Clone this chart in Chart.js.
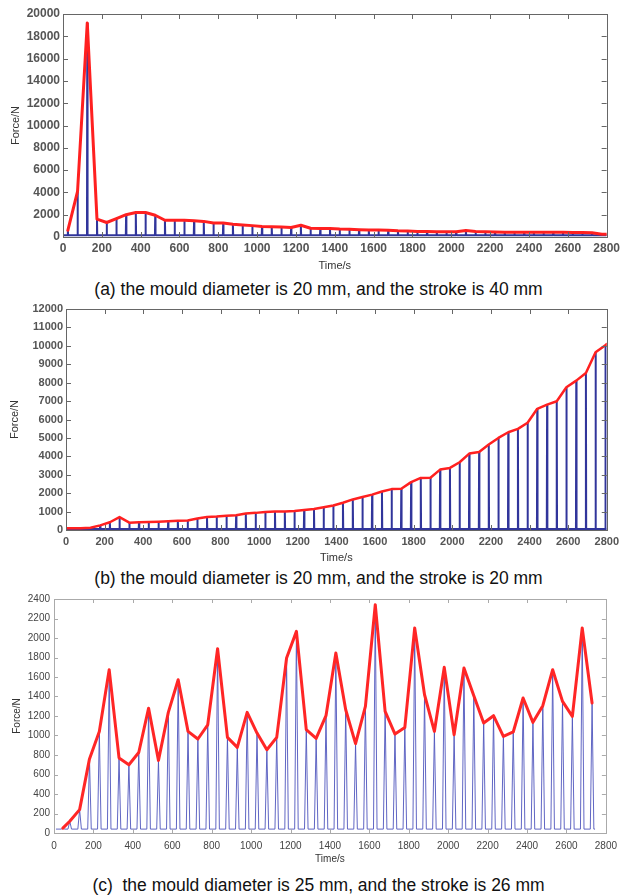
<!DOCTYPE html>
<html>
<head>
<meta charset="utf-8">
<script src="https://cdn.jsdelivr.net/npm/chart.js@4.4.1/dist/chart.umd.min.js"></script>
<style>
  html, body { margin: 0; padding: 0; background: #fff; }
  body { position: relative; width: 624px; height: 896px; overflow: hidden;
         font-family: "Liberation Sans", Arial, sans-serif; }
  canvas { position: absolute; left: 0; }
  .cap { position: absolute; left: 0; width: 637px; text-align: center; font-size: 17.5px;
         line-height: 20px; color: #111; white-space: pre; }
</style>
</head>
<body>
<canvas id="chartA" width="624" height="275" style="top:0px"></canvas>
<div class="cap" style="top:279px">(a) the mould diameter is 20 mm, and the stroke is 40 mm</div>
<canvas id="chartB" width="624" height="272" style="top:295px"></canvas>
<div class="cap" style="top:568px">(b) the mould diameter is 20 mm, and the stroke is 20 mm</div>
<canvas id="chartC" width="624" height="283" style="top:585px"></canvas>
<div class="cap" style="top:875px">(c)  the mould diameter is 25 mm, and the stroke is 26 mm</div>

<script>
// ---- (a) mould 20 mm, stroke 40 mm: peak force of each pressing cycle ----
const timeA = [25,75,125,175,225,275,325,375,425,475,525,575,625,675,725,775,825,875,925,975,
  1025,1075,1125,1175,1225,1275,1325,1375,1425,1475,1525,1575,1625,1675,1725,1775,1825,1875,1925,1975,
  2025,2075,2125,2175,2225,2275,2325,2375,2425,2475,2525,2575,2625,2675,2725,2775];
const forceA = [600,4100,19200,1600,1300,1650,2000,2200,2200,1950,1500,1500,1500,1450,1400,1250,1250,1150,1080,1020,
  950,930,900,850,1050,780,760,760,720,700,660,630,620,600,560,540,500,490,480,480,
  480,580,500,480,450,430,420,420,420,420,420,420,410,400,380,250];
const endForceA = 240;     // envelope value at the right edge (2800 s)
const idleForceA = 150;    // force between cycles

// ---- (b) mould 20 mm, stroke 20 mm ----
const timeB = [26,76,127,177,227,277,328,378,428,479,529,579,630,680,730,780,831,881,931,982,
  1032,1082,1133,1183,1233,1284,1334,1384,1434,1485,1535,1585,1636,1686,1736,1787,1837,1887,1937,1988,
  2038,2088,2139,2189,2239,2290,2340,2390,2440,2491,2541,2591,2642,2692,2742,2793];
const forceB = [100,100,120,250,420,700,400,420,430,450,470,500,520,620,700,730,780,800,900,930,
  980,1000,1010,1030,1080,1140,1230,1330,1480,1660,1790,1920,2090,2220,2240,2600,2830,2840,3280,3370,
  3680,4150,4240,4640,5000,5310,5490,5820,6580,6810,6990,7750,8110,8530,9650,10030];
const startForceB = 100;   // envelope value at 0 s
const endForceB = 10100;   // envelope value at 2800 s
const idleForceB = 60;

// ---- (c) mould 25 mm, stroke 26 mm ----
const timeC = [45,80,130,180,230,280,330,380,430,480,530,580,630,680,730,780,830,880,930,980,
  1030,1080,1130,1180,1230,1280,1330,1380,1430,1480,1530,1580,1630,1680,1730,1780,1830,1880,1930,1980,
  2030,2080,2130,2180,2230,2280,2330,2380,2430,2480,2530,2580,2630,2680,2730];
const forceC = [50,120,240,760,1040,1675,770,700,826,1280,745,1237,1572,1042,964,1110,1890,981,878,1237,
  1025,854,981,1795,2068,1060,970,1203,1846,1264,916,1298,2341,1248,1015,1083,2103,1418,1042,1699,
  1008,1692,1408,1128,1203,991,1036,1385,1135,1306,1675,1350,1196,2103,1333];
const idleForceC = 40;

// Axis ranges and tick steps
const timeMax = 2800, timeStep = 200;
const yMaxA = 20000, yStepA = 2000;
const yMaxB = 12000, yStepB = 1000;
const yMaxC = 2400,  yStepC = 200;

// Force trace: each cycle is a short pulse from the idle level up to its peak and back.
function pulseTrain(times, peaks, idle, halfWidth, from, to) {
  const pts = [{ x: from, y: idle }];
  times.forEach((t, i) => {
    pts.push({ x: t - halfWidth, y: idle }, { x: t, y: peaks[i] }, { x: t + halfWidth, y: idle });
  });
  pts.push({ x: to, y: idle });
  return pts;
}
// Envelope through the cycle peaks
function envelope(times, peaks) {
  return times.map((t, i) => ({ x: t, y: peaks[i] }));
}

// Box around the plot with inward tick marks on all four sides
const boxTicks = {
  id: 'boxTicks',
  afterDatasetsDraw(chart, args, o) {
    const { ctx, chartArea: a } = chart;
    const xs = chart.scales.x, ys = chart.scales.y;
    ctx.save();
    ctx.strokeStyle = o.color;
    ctx.lineWidth = 1;
    ctx.beginPath();
    xs.ticks.forEach(t => {
      const p = Math.round(xs.getPixelForValue(t.value)) + 0.5;
      ctx.moveTo(p, a.top); ctx.lineTo(p, a.top + o.len);
      ctx.moveTo(p, a.bottom); ctx.lineTo(p, a.bottom - o.len);
    });
    ys.ticks.forEach(t => {
      const p = Math.round(ys.getPixelForValue(t.value)) + 0.5;
      ctx.moveTo(a.left, p); ctx.lineTo(a.left + o.len, p);
      ctx.moveTo(a.right, p); ctx.lineTo(a.right - o.len, p);
    });
    ctx.stroke();
    ctx.strokeRect(Math.round(a.left) + 0.5, Math.round(a.top) + 0.5,
                   Math.round(a.right - a.left), Math.round(a.bottom - a.top));
    ctx.restore();
  }
};

function makeChart(id, c) {
  const tickFont = { family: '"Liberation Sans", Arial, sans-serif', size: c.tickSize, weight: c.tickWeight };
  const titleFont = { family: '"Liberation Sans", Arial, sans-serif', size: c.titleSize };
  return new Chart(document.getElementById(id), {
    type: 'line',
    data: {
      datasets: [
        { data: c.env, borderColor: c.red, borderWidth: c.redWidth, pointRadius: 0,
          borderJoinStyle: 'round', borderCapStyle: 'round', tension: 0 },
        { data: c.trace, borderColor: c.blue, borderWidth: c.blueWidth, pointRadius: 0,
          borderJoinStyle: 'bevel', tension: 0 }
      ]
    },
    options: {
      responsive: false, animation: false, devicePixelRatio: 1,
      layout: { autoPadding: false, padding: { left: 0, right: 624 - c.right, top: c.top, bottom: 0 } },
      plugins: {
        legend: { display: false }, tooltip: { enabled: false },
        boxTicks: { color: c.frame, len: c.tickLen }
      },
      scales: {
        x: {
          type: 'linear', min: 0, max: timeMax,
          grid: { display: false, drawTicks: false }, border: { display: false },
          ticks: { stepSize: timeStep, autoSkip: false, maxRotation: 0, padding: c.xPad,
                   color: c.tickColor, font: tickFont, callback: v => String(v) },
          title: { display: true, text: 'Time/s', color: c.titleColor, font: titleFont,
                   padding: { top: 0, bottom: c.xTitlePad } },
          afterFit: s => { s.height = c.xh; }
        },
        y: {
          type: 'linear', min: 0, max: c.yMax,
          grid: { display: false, drawTicks: false }, border: { display: false },
          ticks: { stepSize: c.yStep, autoSkip: false, padding: c.yPad,
                   color: c.tickColor, font: tickFont, callback: v => String(v) },
          title: { display: true, text: 'Force/N', color: c.titleColor, font: titleFont,
                   padding: { top: c.yTitlePad, bottom: 0 } },
          afterFit: s => { s.width = c.left; }
        }
      }
    },
    plugins: [boxTicks]
  });
}

makeChart('chartA', {
  env: envelope(timeA, forceA).concat([{ x: timeMax, y: endForceA }]),
  trace: pulseTrain(timeA, forceA, idleForceA, 1.5, 0, timeMax),
  yMax: yMaxA, yStep: yStepA,
  left: 63, right: 611, top: 14, xh: 38,
  red: '#ff2020', redWidth: 3, blue: 'rgba(38,42,150,0.95)', blueWidth: 2,
  frame: '#666', tickLen: 5,
  tickSize: 12, tickWeight: 'bold', tickColor: '#555', xPad: 4, yPad: 3,
  titleSize: 11, titleColor: '#333', xTitlePad: 2, yTitlePad: 9
});

makeChart('chartB', {
  env: [{ x: 0, y: startForceB }].concat(envelope(timeB, forceB), [{ x: timeMax, y: endForceB }]),
  trace: pulseTrain(timeB, forceB, idleForceB, 1.5, 0, timeMax),
  yMax: yMaxB, yStep: yStepB,
  left: 66, right: 614, top: 14, xh: 37,
  red: '#ff2020', redWidth: 2.5, blue: 'rgba(38,42,150,0.95)', blueWidth: 2,
  frame: '#666', tickLen: 5,
  tickSize: 11, tickWeight: 'bold', tickColor: '#555', xPad: 5, yPad: 3,
  titleSize: 11, titleColor: '#333', xTitlePad: 2, yTitlePad: 8
});

makeChart('chartC', {
  env: envelope(timeC, forceC),
  trace: pulseTrain(timeC, forceC, idleForceC, 9, 10, 2745),
  yMax: yMaxC, yStep: yStepC,
  left: 54, right: 614, top: 14, xh: 35,
  red: '#ff2626', redWidth: 3, blue: 'rgba(80,86,190,0.9)', blueWidth: 1,
  frame: '#aaa', tickLen: 4,
  tickSize: 10, tickWeight: 'normal', tickColor: '#444', xPad: 7, yPad: 4,
  titleSize: 10, titleColor: '#333', xTitlePad: 3, yTitlePad: 11
});
</script>
</body>
</html>
